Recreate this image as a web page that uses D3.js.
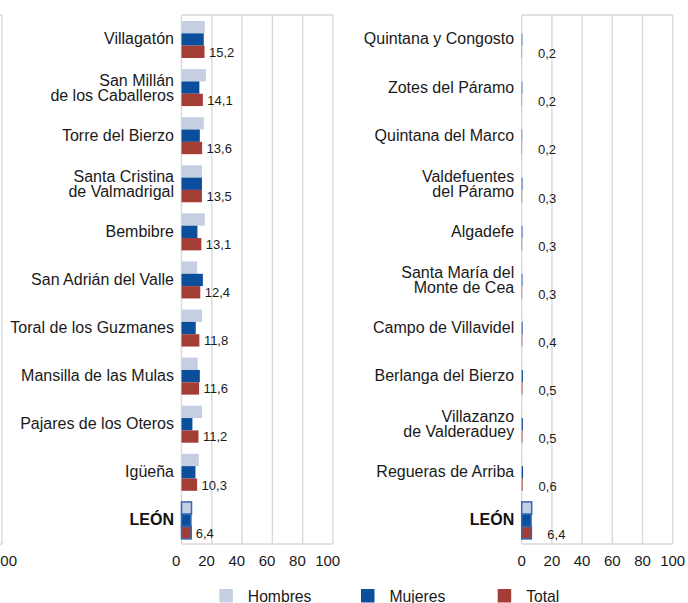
<!DOCTYPE html>
<html>
<head>
<meta charset="utf-8">
<script src="https://cdn.jsdelivr.net/npm/d3@7"></script>
<style>
  html, body { margin: 0; padding: 0; background: #ffffff; }
  svg { display: block; font-family: "Liberation Sans", Arial, Helvetica, sans-serif; }
</style>
</head>
<body>
<svg id="chart" width="688" height="603"></svg>
<script>
// ---------- DATA ----------
const categoriesTop = ["Villagatón", "San Millán\nde los Caballeros", "Torre del Bierzo",
  "Santa Cristina\nde Valmadrigal", "Bembibre", "San Adrián del Valle",
  "Toral de los Guzmanes", "Mansilla de las Mulas", "Pajares de los Oteros", "Igüeña", "LEÓN"];
const hombresTop = [15.4, 16.1, 14.7, 13.5, 15.4, 10.3, 13.6, 10.7, 13.6, 11.4, 6.6];
const mujeresTop = [14.7, 11.8, 12.1, 13.5, 10.5, 14.1, 9.4, 12.1, 7.2, 9.2, 6.2];
const totalTop   = [15.2, 14.1, 13.6, 13.5, 13.1, 12.4, 11.8, 11.6, 11.2, 10.3, 6.4];

const categoriesBottom = ["Quintana y Congosto", "Zotes del Páramo", "Quintana del Marco",
  "Valdefuentes\ndel Páramo", "Algadefe", "Santa María del\nMonte de Cea",
  "Campo de Villavidel", "Berlanga del Bierzo", "Villazanzo\nde Valderaduey",
  "Regueras de Arriba", "LEÓN"];
const hombresBottom = [0.0, 0.0, 0.1, 0.1, 0.1, 0.2, 0.2, 0.2, 0.2, 0.3, 6.6];
const mujeresBottom = [0.4, 0.4, 0.3, 0.5, 0.5, 0.5, 0.6, 0.8, 0.8, 0.9, 6.2];
const totalBottom   = [0.2, 0.2, 0.2, 0.3, 0.3, 0.3, 0.4, 0.5, 0.5, 0.6, 6.4];

const seriesNames = ["Hombres", "Mujeres", "Total"];
const xTicks = [0, 20, 40, 60, 80, 100];
const highlightCategory = "LEÓN";

// ---------- STYLE ----------
const colors = { Hombres: "#c6cee2", Mujeres: "#0b4f9c", Total: "#a53d37" };
const highlightStroke = "#2f69b3";
const gridColor = "#d9d9d9";
const textColor = "#1a1a1a";
const fmt = v => d3.format(".1f")(v).replace(".", ",");

const svg = d3.select("#chart");

const plotTop = 15, plotBottom = 544;

function drawFrame(g, x) {
  g.selectAll("line.grid").data(xTicks).enter().append("line")
    .attr("class", "grid")
    .attr("x1", d => x(d)).attr("x2", d => x(d))
    .attr("y1", plotTop).attr("y2", plotBottom)
    .attr("stroke", gridColor).attr("stroke-width", 1.4);
  [plotTop, plotBottom].forEach(yy => {
    g.append("line")
      .attr("x1", x(0)).attr("x2", x(100))
      .attr("y1", yy).attr("y2", yy)
      .attr("stroke", gridColor).attr("stroke-width", 1.6);
  });
}

function drawTicks(g, x, dx, ticks) {
  g.selectAll("text.tick").data(ticks).enter().append("text")
    .attr("class", "tick")
    .attr("x", d => x(d) + dx)
    .attr("y", 565.5)
    .attr("text-anchor", "middle")
    .attr("font-size", "15px")
    .attr("fill", textColor)
    .text(d => d);
}

function drawPanel(opt) {
  const g = svg.append("g");
  const x = d3.scaleLinear().domain([0, 100]).range([opt.x0, opt.x1]);
  const y = d3.scaleBand().domain(d3.range(opt.cats.length)).range([plotTop, plotBottom]);
  const ySub = d3.scaleBand().domain(seriesNames).range([6, y.bandwidth() - 5.1]);

  drawFrame(g, x);
  drawTicks(g, x, opt.tickDx, xTicks);

  const rows = opt.cats.map((c, i) => ({
    cat: c, i,
    vals: { Hombres: opt.h[i], Mujeres: opt.m[i], Total: opt.t[i] }
  }));

  const rowG = g.selectAll("g.row").data(rows).enter().append("g")
    .attr("class", "row")
    .attr("transform", d => `translate(0,${y(d.i)})`);

  rowG.each(function (d) {
    const isHL = d.cat === highlightCategory;
    const sel = d3.select(this);
    seriesNames.forEach(s => {
      const v = d.vals[s];
      sel.append("rect")
        .attr("x", x(0))
        .attr("y", ySub(s))
        .attr("width", Math.max(0, x(v) - x(0)))
        .attr("height", ySub.bandwidth())
        .attr("fill", colors[s])
        .attr("stroke", isHL ? highlightStroke : "none")
        .attr("stroke-width", isHL ? 1.5 : 0);
    });
  });

  rowG.append("text")
    .attr("x", d => x(d.vals.Total) + opt.valDx)
    .attr("y", y.bandwidth() / 2 + opt.valDy)
    .attr("font-size", "13px")
    .attr("fill", textColor)
    .text(d => fmt(d.vals.Total));

  rowG.each(function (d) {
    const lines = d.cat.split("\n");
    const n = lines.length;
    const t = d3.select(this).append("text")
      .attr("text-anchor", "end")
      .attr("font-size", "16px")
      .attr("font-weight", d.cat === highlightCategory ? "bold" : "normal")
      .attr("fill", d.cat === highlightCategory ? "#111" : textColor);
    lines.forEach((ln, k) => {
      t.append("tspan")
        .attr("x", opt.x0 - 7.5)
        .attr("y", y.bandwidth() / 2 + 5.4 - (n - 1) * 6.9 + k * 15)
        .text(ln);
    });
  });
}

// partially visible panel at far left (only its right edge shows)
(function () {
  const g = svg.append("g");
  const x = d3.scaleLinear().domain([0, 100]).range([-149.5, 2]);
  drawFrame(g, x);
  drawTicks(g, x, 2.5, xTicks.filter(t => x(t) > -20));
})();

drawPanel({ x0: 181.5, x1: 333, cats: categoriesTop, h: hombresTop, m: mujeresTop, t: totalTop,
  tickDx: -5.3, valDx: 4.5, valDy: 17.7 });
drawPanel({ x0: 521.7, x1: 672.7, cats: categoriesBottom, h: hombresBottom, m: mujeresBottom, t: totalBottom,
  tickDx: 0, valDx: 16, valDy: 19.2 });

// legend
const legendX = [219.3, 361, 497.7];
const legendG = svg.append("g");
seriesNames.forEach((s, i) => {
  legendG.append("rect")
    .attr("x", legendX[i]).attr("y", 589)
    .attr("width", 13.5).attr("height", 13.5)
    .attr("fill", colors[s]);
  legendG.append("text")
    .attr("x", legendX[i] + 28.5).attr("y", 601.5)
    .attr("font-size", "15.7px")
    .attr("fill", textColor)
    .text(s);
});
</script>
</body>
</html>
